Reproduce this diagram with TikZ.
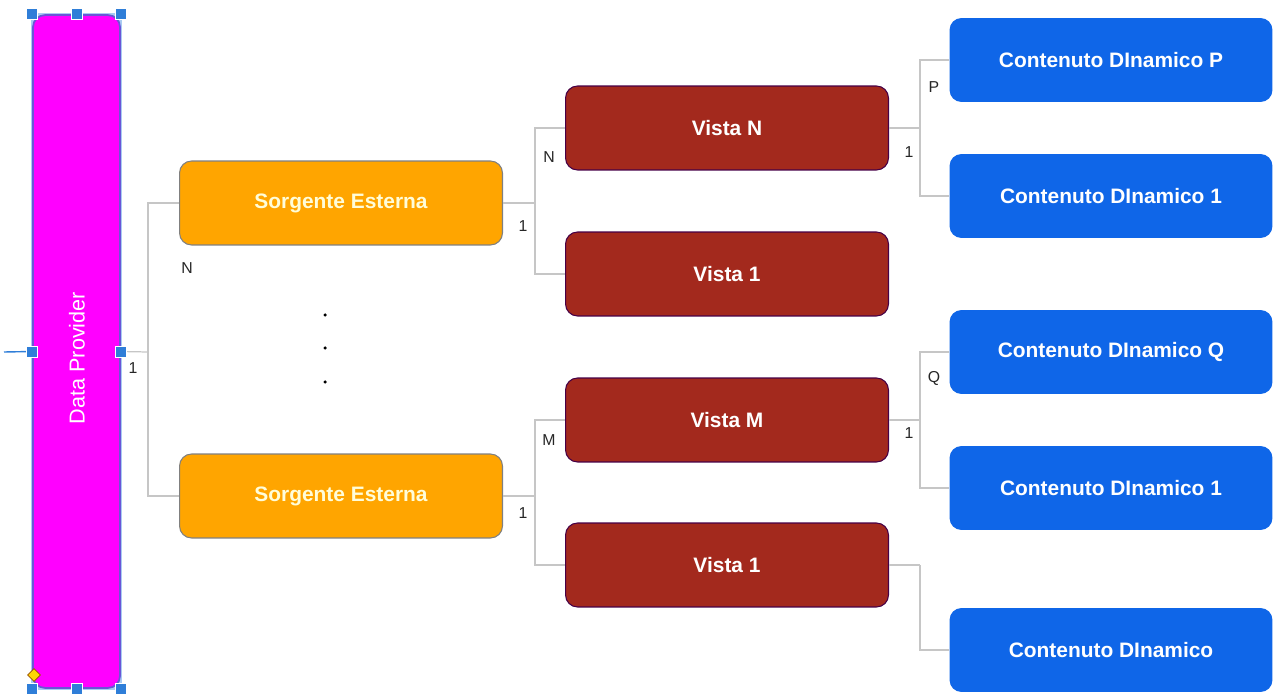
\documentclass[tikz,border=0pt]{standalone}
\usepackage{fontspec}
\setmainfont{Liberation Sans}
\usetikzlibrary{shapes.geometric}

\definecolor{provmag}{HTML}{FF00FF}
\definecolor{srcorange}{HTML}{FFA500}
\definecolor{viewred}{HTML}{A3291D}
\definecolor{cntblue}{HTML}{0F66E8}
\definecolor{linkgray}{HTML}{C6C6C6}
\definecolor{selblue}{HTML}{2F7ED8}
\definecolor{sellight}{HTML}{A9CBF2}
\definecolor{provedge}{HTML}{6A55D6}

\begin{document}
\begin{tikzpicture}[
  x=0.02cm, y=-0.02cm,
  box/.style={rounded corners=0.24cm, minimum width=6.46cm, minimum height=1.68cm,
    font=\fontsize{11.9}{14}\selectfont\bfseries, text=white, inner sep=2pt},
  srcbox/.style={box, fill=srcorange, draw=black!50, line width=0.6pt, text=white!85!yellow},
  viewbox/.style={box, fill=viewred, draw=violet!55!black, line width=0.6pt},
  cntbox/.style={box, fill=cntblue},
  link/.style={draw=linkgray, line width=0.7pt},
  lbl/.style={font=\fontsize{9}{10}\selectfont, text=black!85, inner sep=1pt},
  handle/.style={draw=white, fill=selblue, minimum size=0.22cm, inner sep=0pt, line width=0.4pt},
  dot/.style={circle, fill=black, inner sep=0pt, minimum size=0.07cm}
]
  \useasboundingbox (0,0) rectangle (1274,695);

  % data provider (selected)
  \draw[sellight, line width=2.6pt] (33,15) rectangle (120,688);
  \node[fill=provmag, draw=provedge, line width=1pt, rounded corners=0.24cm,
    minimum width=1.74cm, minimum height=13.46cm, inner sep=0pt] (dp) at (76.5,351.5) {};
  \node[rotate=90, text=white, font=\fontsize{12.3}{14}\selectfont] (dplabel) at (77,358) {Data Provider};
  \coordinate (ext) at (4,352);
  \draw[selblue, line width=0.8pt] (ext) -- (dp.west);

  % sources
  \node[srcbox] (s1) at (341,203) {Sorgente Esterna};
  \node[srcbox] (s2) at (341,496) {Sorgente Esterna};
  \foreach \y [count=\i] in {315,348,382}
    \node[dot] (d\i) at (325,\y) {};

  % views
  \node[viewbox] (vN) at (727,128) {Vista N};
  \node[viewbox] (v1a) at (727,274) {Vista 1};
  \node[viewbox] (vM) at (727,420) {Vista M};
  \node[viewbox] (v1b) at (727,565) {Vista 1};

  % dynamic contents
  \node[cntbox] (cP) at (1111,60) {Contenuto DInamico P};
  \node[cntbox] (c1a) at (1111,196) {Contenuto DInamico 1};
  \node[cntbox] (cQ) at (1111,352) {Contenuto DInamico Q};
  \node[cntbox] (c1b) at (1111,488) {Contenuto DInamico 1};
  \node[cntbox] (c0) at (1111,650) {Contenuto DInamico};

  % branch points
  \coordinate (j0) at (148,352);
  \coordinate (j1) at (535,203);
  \coordinate (j2) at (535,496);
  \coordinate (j3) at (920,128);
  \coordinate (j4) at (920,420);
  \coordinate (j5) at (920,565);

  \draw[link] (dp.east) -- (j0);
  \draw[link] (j0) |- (s1.west);
  \draw[link] (j0) |- (s2.west);
  \draw[link] (s1.east) -- (j1);
  \draw[link] (j1) |- (vN.west);
  \draw[link] (j1) |- (v1a.west);
  \draw[link] (s2.east) -- (j2);
  \draw[link] (j2) |- (vM.west);
  \draw[link] (j2) |- (v1b.west);
  \draw[link] (vN.east) -- (j3);
  \draw[link] (j3) |- (cP.west);
  \draw[link] (j3) |- (c1a.west);
  \draw[link] (vM.east) -- (j4);
  \draw[link] (j4) |- (cQ.west);
  \draw[link] (j4) |- (c1b.west);
  \draw[link] (v1b.east) -- (j5);
  \draw[link] (j5) |- (c0.west);

  % multiplicities
  \node[lbl] (m0) at (133,368) {1};
  \node[lbl] (m1) at (187,268) {N};
  \node[lbl] (m2) at (523,226) {1};
  \node[lbl] (m3) at (549,157) {N};
  \node[lbl] (m4) at (523,513) {1};
  \node[lbl] (m5) at (549,440) {M};
  \node[lbl] (m6) at (909,152) {1};
  \node[lbl] (m7) at (934,87) {P};
  \node[lbl] (m8) at (909,433) {1};
  \node[lbl] (m9) at (934,378) {Q};

  % selection handles
  \foreach \a [count=\i] in {north west,north,north east,west,east,south west,south,south east}
    \node[handle] (h\i) at (dp.\a) {};
  \node[diamond, fill=yellow!75!orange, draw=orange!60!black, line width=0.4pt,
    inner sep=0pt, minimum size=0.26cm] (adj) at (34,675) {};
\end{tikzpicture}
\end{document}
